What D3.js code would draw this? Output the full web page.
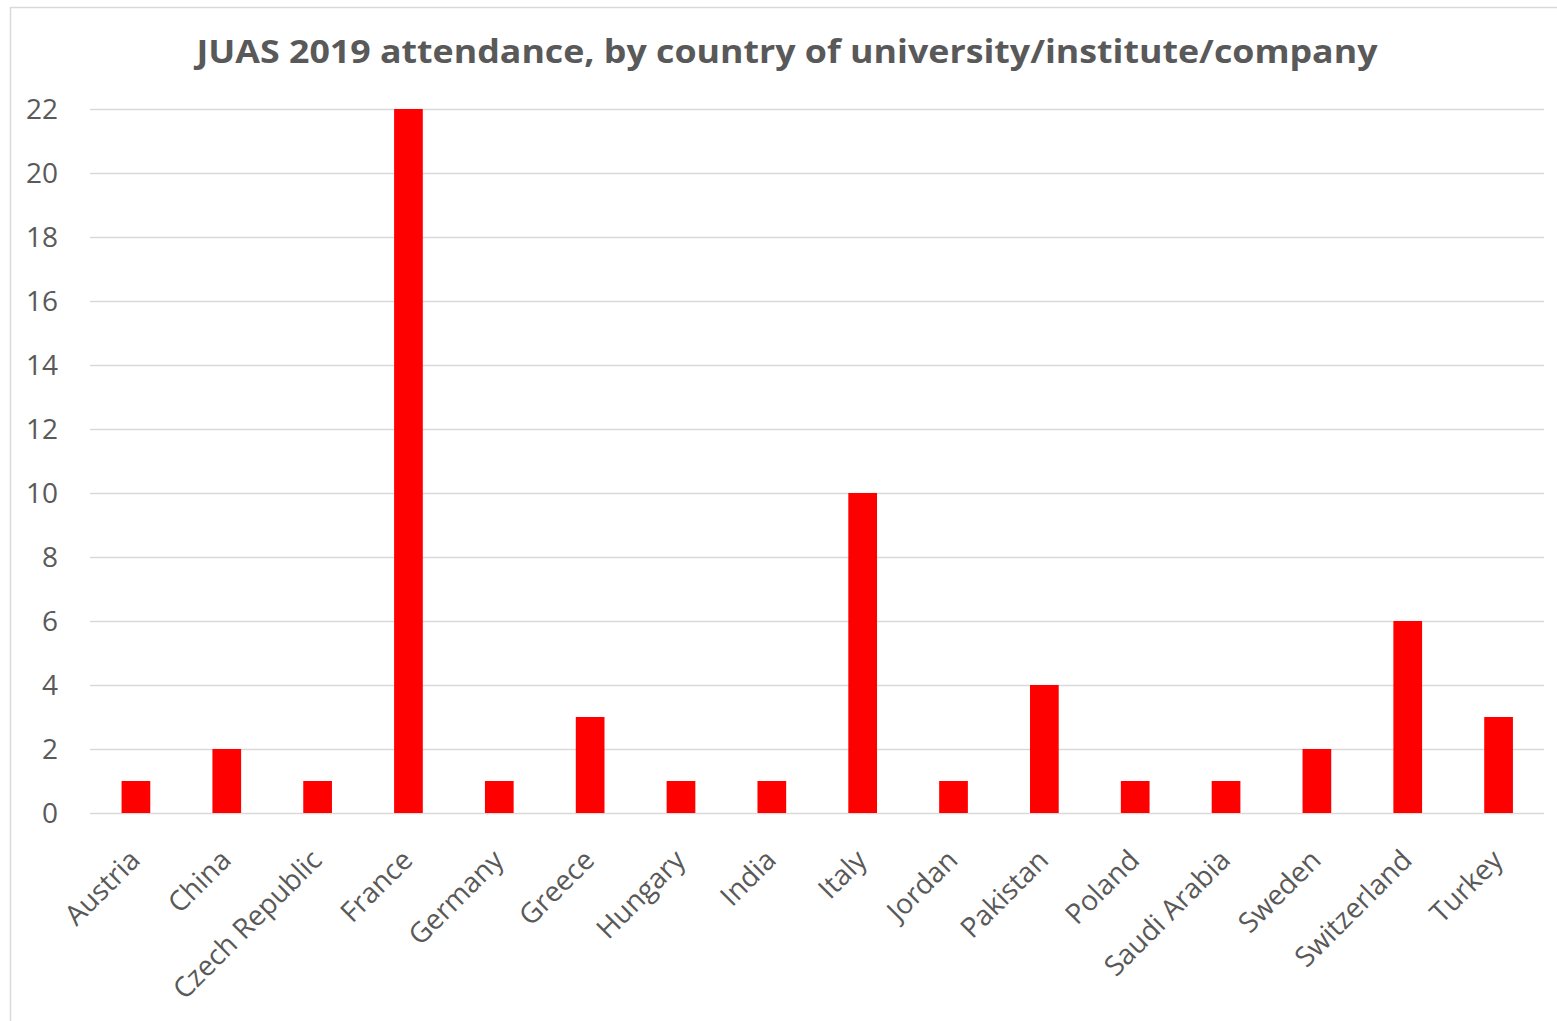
<!DOCTYPE html>
<html><head><meta charset="utf-8">
<script src="https://cdn.jsdelivr.net/npm/d3@7"></script>
<style>body{margin:0;background:#fff}svg{display:block}</style>
</head><body>
<script>
const titleText = "JUAS 2019 attendance, by country of university/institute/company";
const countries = ["Austria","China","Czech Republic","France","Germany","Greece","Hungary","India","Italy","Jordan","Pakistan","Poland","Saudi Arabia","Sweden","Switzerland","Turkey"];
const attendance = [1,2,1,22,1,3,1,1,10,1,4,1,1,2,6,3];
const yTicks = [0,2,4,6,8,10,12,14,16,18,20,22];

const W = 1557, H = 1021;
const svg = d3.select("body").append("svg").attr("width", W).attr("height", H);
const font = "'Open Sans', sans-serif";
const grey = "#595959";

// chart frame
svg.append("rect").attr("x", 10.5).attr("y", 7.5).attr("width", W).attr("height", H)
  .attr("fill", "#fff").attr("stroke", "#d9d9d9").attr("stroke-width", 1.5);

const x = d3.scaleBand().domain(countries).range([90.5, 1544]).paddingInner(0.684).paddingOuter(0.342);
const y = d3.scaleLinear().domain([0, 22]).range([813, 109]);

// gridlines
svg.append("g").selectAll("line").data(yTicks).join("line")
  .attr("x1", 90).attr("x2", 1544)
  .attr("y1", d => Math.round(y(d)) + 0.5).attr("y2", d => Math.round(y(d)) + 0.5)
  .attr("stroke", "#d9d9d9").attr("stroke-width", 1.6);

// y axis labels
const yAxis = d3.axisLeft(y).tickValues(yTicks).tickSize(0).tickPadding(0);
const yg = svg.append("g").attr("transform", "translate(58,0)").call(yAxis);
yg.select(".domain").remove();
yg.selectAll("text").attr("font-family", font).attr("font-size", 28).attr("fill", grey).attr("dy", "0.35em");

// bars
svg.append("g").selectAll("rect").data(countries).join("rect")
  .attr("x", d => x(d)).attr("width", x.bandwidth())
  .attr("y", (d, i) => y(attendance[i])).attr("height", (d, i) => y(0) - y(attendance[i]))
  .attr("fill", "#ff0000");

// x axis labels
const xAxis = d3.axisBottom(x).tickSize(0).tickPadding(0);
const xg = svg.append("g").attr("transform", "translate(0,813)").call(xAxis);
xg.select(".domain").remove();
xg.selectAll("text")
  .attr("font-family", font).attr("font-size", 28).attr("fill", grey)
  .attr("text-anchor", "end").attr("dy", "0.7em").attr("y", 0)
  .attr("transform", "translate(-8,35) rotate(-45)");

// title
svg.append("text").attr("x", 787).attr("y", 63).attr("text-anchor", "middle")
  .attr("font-family", font).attr("font-weight", "bold").attr("font-size", 33)
  .attr("fill", grey).attr("textLength", 1181).attr("lengthAdjust", "spacingAndGlyphs")
  .text(titleText);
</script>
</body></html>
